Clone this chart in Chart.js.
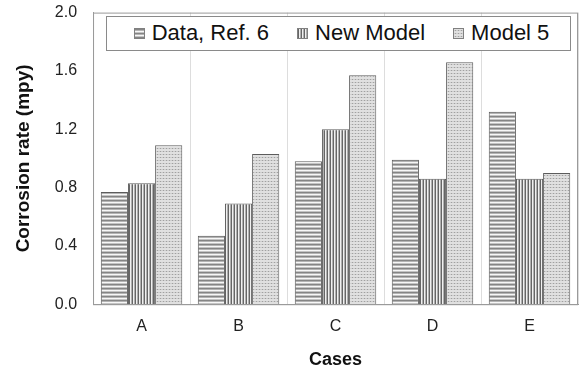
<!DOCTYPE html>
<html>
<head>
<meta charset="utf-8">
<script src="https://cdn.jsdelivr.net/npm/chart.js@4"></script>
<style>
  html, body { margin: 0; padding: 0; background: #fff; }
  #wrap { position: relative; width: 579px; height: 371px; }
  #legend {
    position: absolute; box-sizing: border-box; padding-left: 6px;
    border: 1px solid #8a8a8a; background: #fff;
    display: flex; align-items: center; justify-content: center;
    font-family: "Liberation Sans", Arial, sans-serif; font-size: 22px; color: #111;
  }
  #legend .item { display: flex; align-items: center; margin: 0 14px; }
  #legend .sw { width: 9px; height: 9px; border: 1px solid #808080; margin-right: 7px; }
</style>
</head>
<body>
<div id="wrap">
  <canvas id="chart"></canvas>
  <div id="legend"></div>
</div>
<script>
// Data
const CATEGORIES = ['A', 'B', 'C', 'D', 'E'];
const SERIES_NAMES = ['Data, Ref. 6', 'New Model', 'Model 5'];
const DATA_REF6 = [0.77, 0.47, 0.98, 0.99, 1.32];
const NEW_MODEL = [0.83, 0.69, 1.20, 0.86, 0.86];
const MODEL_5 = [1.09, 1.03, 1.57, 1.66, 0.90];
const Y_TICKS = [0.0, 0.4, 0.8, 1.2, 1.6, 2.0];

const FONT = '"Liberation Sans", Arial, sans-serif';

// Pattern tiles
const makeTile = (w, h, draw) => {
  const c = document.createElement('canvas');
  c.width = w; c.height = h;
  draw(c.getContext('2d'));
  return c;
};

const hTile = makeTile(1, 4, (g) => {
  ['#858585', '#b4b4b4', '#f7f7f7', '#c4c4c4'].forEach((col, i) => {
    g.fillStyle = col; g.fillRect(0, i, 1, 1);
  });
});
const vTile = makeTile(3, 1, (g) => {
  ['#666666', '#f0f0f0', '#b0b0b0'].forEach((col, i) => {
    g.fillStyle = col; g.fillRect(i, 0, 1, 1);
  });
});
const dTile = makeTile(3, 3, (g) => {
  g.fillStyle = '#e0e0e0'; g.fillRect(0, 0, 3, 3);
  g.fillStyle = '#cecece'; g.fillRect(0, 1, 3, 1);
  g.fillStyle = '#a0a0a0'; g.fillRect(1, 1, 1, 1);
});

const ctx = document.getElementById('chart').getContext('2d');
const patterns = [hTile, vTile, dTile].map(t => ctx.createPattern(t, 'repeat'));

// Legend (HTML overlay inside the plot area)
const legendEl = document.getElementById('legend');
SERIES_NAMES.forEach((name, i) => {
  const item = document.createElement('div');
  item.className = 'item';
  const sw = document.createElement('span');
  sw.className = 'sw';
  sw.style.backgroundImage = `url(${[hTile, vTile, dTile][i].toDataURL()})`;
  const txt = document.createElement('span');
  txt.textContent = name;
  item.appendChild(sw);
  item.appendChild(txt);
  legendEl.appendChild(item);
});

const framePlugin = {
  id: 'frame',
  afterLayout(chart) {
    const a = chart.chartArea;
    legendEl.style.left = (a.left + 13) + 'px';
    legendEl.style.top = (a.top + 3) + 'px';
    legendEl.style.width = (a.right - a.left - 20) + 'px';
    legendEl.style.height = '35px';
  },
  afterDraw(chart) {
    const a = chart.chartArea;
    const g = chart.ctx;
    g.save();
    g.strokeStyle = '#9a9a9a';
    g.lineWidth = 1;
    g.strokeRect(a.left + 0.5, a.top + 0.5, a.right - a.left - 1, a.bottom - a.top);
    g.restore();
  }
};

const makeDataset = (label, data, i) => ({
  label,
  data,
  backgroundColor: patterns[i],
  borderColor: '#5c5c5c',
  borderWidth: 1,
  categoryPercentage: 0.84,
  barPercentage: 1.0
});

new Chart(ctx, {
  type: 'bar',
  data: {
    labels: CATEGORIES,
    datasets: [
      makeDataset(SERIES_NAMES[0], DATA_REF6, 0),
      makeDataset(SERIES_NAMES[1], NEW_MODEL, 1),
      makeDataset(SERIES_NAMES[2], MODEL_5, 2)
    ]
  },
  options: {
    responsive: true,
    maintainAspectRatio: false,
    animation: false,
    layout: { padding: { top: 0, right: 1, left: 12, bottom: 0 } },
    plugins: {
      legend: { display: false },
      tooltip: { enabled: false }
    },
    scales: {
      x: {
        grid: { color: '#dddddd', drawTicks: false },
        border: { color: '#9a9a9a' },
        ticks: { color: '#222', padding: 13, font: { family: FONT, size: 16 } },
        title: {
          display: true, text: 'Cases', color: '#111',
          font: { family: FONT, size: 18, weight: 'bold' },
          padding: { top: 0, bottom: 0 }
        }
      },
      y: {
        min: 0,
        max: 2,
        afterBuildTicks: (scale) => { scale.ticks = Y_TICKS.map(v => ({ value: v })); },
        // grid hidden; tickLength only reserves space between labels and axis
        grid: { display: false, drawTicks: true, tickLength: 13 },
        border: { color: '#9a9a9a' },
        ticks: {
          color: '#222', padding: 3,
          font: { family: FONT, size: 16 },
          callback: (v) => Number(v).toFixed(1)
        },
        title: {
          display: true, text: 'Corrosion rate (mpy)', color: '#111',
          font: { family: FONT, size: 19, weight: 'bold' },
          padding: { top: 0, bottom: 17 }
        }
      }
    }
  },
  plugins: [framePlugin]
});
</script>
</body>
</html>
